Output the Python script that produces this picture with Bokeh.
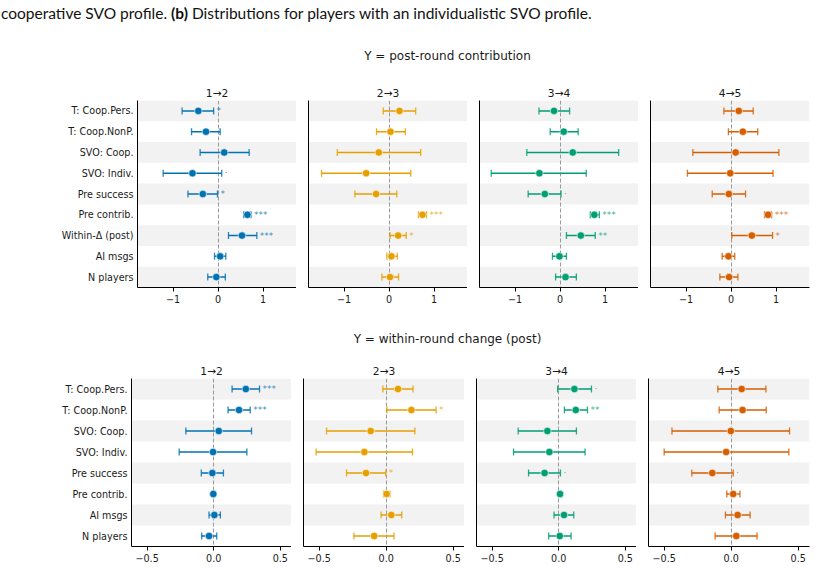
import math

from bokeh.core.properties import value
from bokeh.embed import file_html
from bokeh.layouts import column, row
from bokeh.models import (ColumnDataSource, CustomJSTickFormatter, Div,
                          FixedTicker, Label, Range1d)
from bokeh.plotting import figure
from bokeh.resources import INLINE

# ---------------------------------------------------------------- data
TRANSITIONS = ["1→2", "2→3", "3→4", "4→5"]
COLORS = ["#0072B2", "#E69F00", "#009E73", "#D55E00"]

PREDICTORS_POST = ["T: Coop.Pers.", "T: Coop.NonP.", "SVO: Coop.", "SVO: Indiv.",
                   "Pre success", "Pre contrib.", "Within-Δ (post)", "AI msgs", "N players"]
PREDICTORS_CHANGE = ["T: Coop.Pers.", "T: Coop.NonP.", "SVO: Coop.", "SVO: Indiv.",
                     "Pre success", "Pre contrib.", "AI msgs", "N players"]

# Y = post-round contribution: estimate, CI low, CI high, significance
post_12_est = [-0.44, -0.27, 0.135, -0.57, -0.34, 0.65, 0.53, 0.045, -0.04]
post_12_lo = [-0.80, -0.59, -0.40, -1.22, -0.67, 0.57, 0.23, -0.08, -0.23]
post_12_hi = [-0.10, 0.045, 0.69, 0.08, -0.015, 0.73, 0.86, 0.17, 0.16]
post_12_sig = ["*", "", "", "·", "*", "***", "***", "", ""]

post_23_est = [0.23, 0.03, -0.23, -0.51, -0.29, 0.74, 0.20, 0.05, 0.02]
post_23_lo = [-0.13, -0.28, -1.15, -1.50, -0.76, 0.65, 0.02, -0.05, -0.16]
post_23_hi = [0.59, 0.36, 0.70, 0.48, 0.17, 0.83, 0.38, 0.18, 0.21]
post_23_sig = ["", "", "", "", "", "***", "*", "", ""]

post_34_est = [-0.135, 0.08, 0.28, -0.46, -0.34, 0.76, 0.46, -0.015, 0.12]
post_34_lo = [-0.47, -0.22, -0.74, -1.53, -0.71, 0.67, 0.14, -0.17, -0.10]
post_34_hi = [0.21, 0.40, 1.30, 0.58, 0.02, 0.87, 0.78, 0.14, 0.36]
post_34_sig = ["", "", "", "", "·", "***", "**", "", ""]

post_45_est = [0.17, 0.26, 0.10, -0.02, -0.05, 0.82, 0.46, -0.06, -0.045]
post_45_lo = [-0.16, -0.06, -0.85, -0.97, -0.42, 0.74, 0.015, -0.20, -0.25]
post_45_hi = [0.49, 0.59, 1.06, 0.93, 0.32, 0.90, 0.92, 0.08, 0.15]
post_45_sig = ["", "", "", "", "", "***", "*", "", ""]

# Y = within-round change (post)
chg_12_est = [0.241, 0.19, 0.038, -0.005, -0.01, -0.003, 0.005, -0.035]
chg_12_lo = [0.138, 0.108, -0.209, -0.259, -0.093, -0.012, -0.035, -0.09]
chg_12_hi = [0.344, 0.274, 0.284, 0.249, 0.073, 0.006, 0.05, 0.023]
chg_12_sig = ["***", "***", "", "", "", "", "", ""]

chg_23_est = [0.088, 0.188, -0.116, -0.163, -0.151, 0.003, 0.038, -0.09]
chg_23_lo = [-0.025, 0.005, -0.445, -0.523, -0.296, -0.02, -0.038, -0.241]
chg_23_hi = [0.20, 0.372, 0.214, 0.196, -0.003, 0.028, 0.116, 0.058]
chg_23_sig = ["", "*", "", "", "*", "", "", ""]

chg_34_est = [0.118, 0.128, -0.085, -0.07, -0.106, 0.01, 0.04, 0.008]
chg_34_lo = [-0.008, 0.043, -0.304, -0.339, -0.226, 0.0, -0.035, -0.075]
chg_34_hi = [0.246, 0.216, 0.133, 0.198, 0.013, 0.02, 0.113, 0.093]
chg_34_sig = ["·", "**", "", "", "·", "", "", ""]

chg_45_est = [0.078, 0.085, -0.003, -0.038, -0.141, 0.015, 0.048, 0.038]
chg_45_lo = [-0.10, -0.09, -0.442, -0.50, -0.294, -0.033, -0.043, -0.12]
chg_45_hi = [0.259, 0.261, 0.435, 0.43, 0.015, 0.065, 0.141, 0.193]
chg_45_sig = ["", "", "", "", "·", "", "", ""]

POST = [
    (post_12_est, post_12_lo, post_12_hi, post_12_sig),
    (post_23_est, post_23_lo, post_23_hi, post_23_sig),
    (post_34_est, post_34_lo, post_34_hi, post_34_sig),
    (post_45_est, post_45_lo, post_45_hi, post_45_sig),
]
CHANGE = [
    (chg_12_est, chg_12_lo, chg_12_hi, chg_12_sig),
    (chg_23_est, chg_23_lo, chg_23_hi, chg_23_sig),
    (chg_34_est, chg_34_lo, chg_34_hi, chg_34_sig),
    (chg_45_est, chg_45_lo, chg_45_hi, chg_45_sig),
]

POST_TICKS = [-1, 0, 1]
CHANGE_TICKS = [-0.5, 0.0, 0.5]

# ---------------------------------------------------------------- styling
FONT = "DejaVu Sans"
TEXT_COLOR = "#1a1a1a"
BAND_COLOR = "#f2f2f2"
ZERO_COLOR = "#9a9a9a"


def minus_formatter(decimals):
    return CustomJSTickFormatter(code=f"""
        const s = Math.abs(tick).toFixed({decimals});
        return (tick < 0 ? '\\u2212' : '') + s;
    """)


def forest_panel(labels, series, color, title, xlim, ticks, decimals,
                 frame_w, frame_h, border_left, border_right, border_top,
                 border_bottom, show_labels):
    est, lo, hi, sig = series
    n = len(labels)
    # first predictor at the top
    ypos = [n - 1 - i for i in range(n)]

    p = figure(
        frame_width=frame_w, frame_height=frame_h,
        x_range=Range1d(*xlim), y_range=Range1d(-0.5, n - 0.5),
        output_backend="svg", toolbar_location=None,
        min_border_left=border_left, min_border_right=border_right,
        min_border_top=border_top, min_border_bottom=border_bottom,
        outline_line_color=None, background_fill_color="white",
    )
    p.xgrid.visible = False
    p.ygrid.visible = False

    # title above each panel
    p.title.text = title
    p.title.align = "center"
    p.title.text_font = FONT
    p.title.text_font_size = "10.7px"
    p.title.text_font_style = "normal"
    p.title.text_color = TEXT_COLOR
    p.title.standoff = 2

    # alternating row bands
    p.hbar(y=ypos[0::2], height=1, left=-10, right=10,
           fill_color=BAND_COLOR, line_color=None)

    # zero reference line
    p.vspan(x=[0], line_color=ZERO_COLOR, line_width=1, line_dash="4 2")

    src = ColumnDataSource(dict(y=ypos, est=est, lo=lo, hi=hi))
    p.segment(x0="lo", y0="y", x1="hi", y1="y", source=src,
              line_color=color, line_width=1.5)
    for end in ("lo", "hi"):
        p.scatter(x=end, y="y", source=src, marker="dash", angle=math.pi / 2,
                  size=7, line_color=color, line_width=1.3, line_alpha=0.85)
    p.scatter(x="est", y="y", source=src, size=7.5, fill_color=color,
              line_color="white", line_width=0.6)

    # significance markers, only where a marker exists
    keep = [i for i in range(n) if sig[i]]
    star_src = ColumnDataSource(dict(y=[ypos[i] for i in keep],
                                     hi=[hi[i] for i in keep],
                                     sig=[sig[i] for i in keep]))
    p.text(x="hi", y="y", text="sig", source=star_src, x_offset=3,
           text_align="left", text_baseline="middle", text_color=color,
           text_alpha=0.8, text_font=value(FONT), text_font_size="9px")

    # axes: left and bottom spines only
    xa = p.xaxis[0]
    xa.ticker = FixedTicker(ticks=ticks)
    xa.formatter = minus_formatter(decimals)
    xa.axis_line_color = "black"
    xa.axis_line_width = 1
    xa.major_tick_out = 4
    xa.major_tick_in = 0
    xa.minor_tick_out = 0
    xa.minor_tick_in = 0
    xa.major_tick_line_color = "black"
    xa.major_label_standoff = 3
    xa.major_label_text_font = FONT
    xa.major_label_text_font_size = "9.6px"
    xa.major_label_text_color = TEXT_COLOR

    ya = p.yaxis[0]
    ya.axis_line_color = "black"
    ya.axis_line_width = 1
    ya.major_tick_out = 0
    ya.major_tick_in = 0
    ya.minor_tick_out = 0
    ya.minor_tick_in = 0
    ya.major_tick_line_color = None
    ya.major_label_text_font = FONT
    ya.major_label_text_color = TEXT_COLOR
    ya.major_label_text_font_size = "9.6px"
    if show_labels:
        ya.ticker = FixedTicker(ticks=ypos)
        ya.formatter = CustomJSTickFormatter(
            args=dict(names=list(reversed(labels))),
            code="return names[Math.round(tick)];")
        ya.major_label_standoff = 4
    else:
        ya.ticker = FixedTicker(ticks=[])
        ya.major_label_standoff = 0
    return p


def heading(text, height, y_center, size):
    h = figure(width=815, height=height, x_range=Range1d(0, 815),
               y_range=Range1d(height, 0), x_axis_type=None, y_axis_type=None,
               output_backend="svg", toolbar_location=None, min_border=0,
               outline_line_color=None)
    h.grid.visible = False
    h.add_layout(Label(x=447, y=y_center, text=text, text_align="center",
                       text_baseline="middle", text_font=FONT,
                       text_font_size=size, text_color=TEXT_COLOR))
    return h


caption = Div(
    text=('<div style="font-family:Lato;font-size:15.5px;color:#111;'
          'white-space:nowrap;margin-top:2px;margin-left:1px;">'
          'cooperative SVO profile. <b>(b)</b> Distributions for players with an '
          'individualistic SVO profile.</div>'),
    width=815, height=30, margin=0,
)

head_post = heading("Y = post-round contribution", 45, 25, "12px")
head_change = heading("Y = within-round change (post)", 37, 20, "12px")

post_lefts = [137, 12, 12, 12]
post_rights = [0, 0, 0, 6]
post_panels = [
    forest_panel(PREDICTORS_POST, POST[i], COLORS[i], TRANSITIONS[i],
                 (-1.79, 1.74), POST_TICKS, 0, 159, 187,
                 post_lefts[i], post_rights[i], 25, 31, i == 0)
    for i in range(4)
]

chg_lefts = [131, 12, 12, 12]
chg_rights = [0, 0, 0, 6]
chg_widths = [160, 161, 160, 161]
change_panels = [
    forest_panel(PREDICTORS_CHANGE, CHANGE[i], COLORS[i], TRANSITIONS[i],
                 (-0.617, 0.584), CHANGE_TICKS, 1, chg_widths[i], 168,
                 chg_lefts[i], chg_rights[i], 23, 21, i == 0)
    for i in range(4)
]

layout = column(caption, head_post, row(*post_panels), head_change,
                row(*change_panels), spacing=0)

open("out.html", "w").write(file_html(layout, INLINE))
